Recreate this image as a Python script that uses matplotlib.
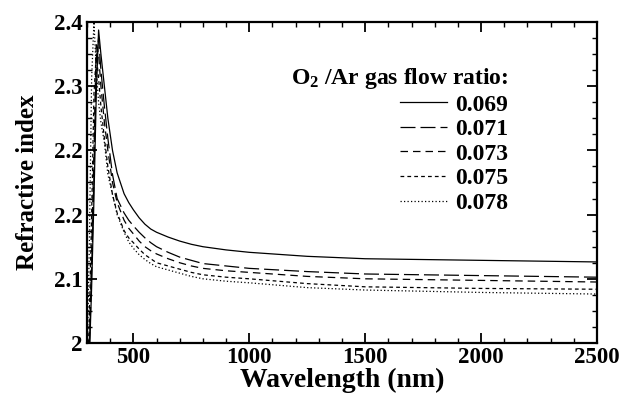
import numpy as np
import matplotlib
matplotlib.use("Agg")
import matplotlib.pyplot as plt
from matplotlib.ticker import MultipleLocator

plt.rcParams['font.family'] = ['Liberation Serif', 'DejaVu Serif']
plt.rcParams['font.weight'] = 'bold'
plt.rcParams['mathtext.fontset'] = 'custom'
plt.rcParams['mathtext.rm'] = 'Liberation Serif:bold'
plt.rcParams['mathtext.it'] = 'Liberation Serif:bold'
plt.rcParams['mathtext.bf'] = 'Liberation Serif:bold'

# wavelength grid (nm), denser around the absorption peak
wavelength = [300, 310, 320, 330, 340, 350, 360, 375, 390, 410, 430, 460, 480,
              500, 525, 550, 575, 600, 650, 700, 750, 800, 900, 1000, 1250,
              1500, 2000, 2500]

# refractive index for each O2/Ar flow ratio
n_069 = [1.90, 1.98, 2.07, 2.18, 2.31, 2.39, 2.36, 2.32, 2.28, 2.24, 2.212, 2.186, 2.175,
         2.166, 2.156, 2.148, 2.142, 2.138, 2.132, 2.127, 2.123, 2.120, 2.116, 2.113, 2.108,
         2.105, 2.103, 2.101]
n_071 = [1.91, 1.99, 2.09, 2.21, 2.35, 2.38, 2.34, 2.295, 2.255, 2.21, 2.18, 2.162, 2.153,
         2.146, 2.138, 2.131, 2.125, 2.120, 2.113, 2.107, 2.103, 2.099, 2.096, 2.093, 2.089,
         2.086, 2.084, 2.082]
n_073 = [1.92, 2.00, 2.11, 2.24, 2.375, 2.36, 2.32, 2.275, 2.24, 2.20, 2.175, 2.153, 2.143,
         2.136, 2.127, 2.120, 2.115, 2.111, 2.105, 2.100, 2.096, 2.093, 2.090, 2.088, 2.083,
         2.080, 2.078, 2.076]
n_075 = [1.94, 2.03, 2.16, 2.31, 2.36, 2.33, 2.295, 2.255, 2.22, 2.185, 2.162, 2.140, 2.131,
         2.125, 2.117, 2.110, 2.105, 2.100, 2.096, 2.092, 2.088, 2.085, 2.082, 2.080, 2.074,
         2.070, 2.068, 2.067]
n_078 = [1.97, 2.12, 2.33, 2.40, 2.34, 2.30, 2.275, 2.25, 2.21, 2.185, 2.16, 2.138, 2.126,
         2.118, 2.110, 2.104, 2.099, 2.095, 2.091, 2.087, 2.083, 2.080, 2.077, 2.075, 2.069,
         2.066, 2.063, 2.061]

labels = ['0.069', '0.071', '0.073', '0.075', '0.078']
series = [n_069, n_071, n_073, n_075, n_078]
styles = ['-', (0, (12, 4)), (0, (6, 4)), (0, (3, 2.5)), (0, (1, 1.8))]

y_ticks = [2.0, 2.08, 2.16, 2.24, 2.32, 2.4]
y_ticklabels = ['2', '2.1', '2.2', '2.2', '2.3', '2.4']

fig = plt.figure(figsize=(6.22, 4.01), dpi=100)
ax = fig.add_axes([87 / 622, 58 / 401, 510 / 622, 321 / 401])

for n, lab, ls in zip(series, labels, styles):
    ax.plot(wavelength, n, color='black', lw=0.9, linestyle=ls, label=lab)

ax.set_xlim(300, 2500)
ax.set_ylim(2.0, 2.4)
ax.xaxis.set_major_locator(MultipleLocator(500))
ax.xaxis.set_minor_locator(MultipleLocator(100))
ax.set_yticks(y_ticks)
ax.set_yticklabels(y_ticklabels)
ax.yaxis.set_minor_locator(MultipleLocator(0.02))

ax.tick_params(which='both', direction='in', top=True, right=True,
               labelsize=16.5, width=1.3)
ax.tick_params(which='major', length=7, pad=3)
ax.tick_params(which='minor', length=3.5, width=1.0)
for s in ax.spines.values():
    s.set_linewidth(1.6)

ax.set_xlabel('Wavelength (nm)', fontsize=20, fontweight='bold', labelpad=0)
ax.set_ylabel('Refractive index', fontsize=18, fontweight='bold', labelpad=11)

leg = ax.legend(title='O$_2$ /Ar gas flow ratio:', loc='upper right',
                bbox_to_anchor=(0.85, 0.9), frameon=False, alignment='right',
                handlelength=2.0, handletextpad=0.35, labelspacing=0.13,
                borderpad=0, prop={'size': 17, 'weight': 'bold'},
                title_fontproperties={'size': 17, 'weight': 'bold'})

fig.savefig('out.png', dpi=100)
